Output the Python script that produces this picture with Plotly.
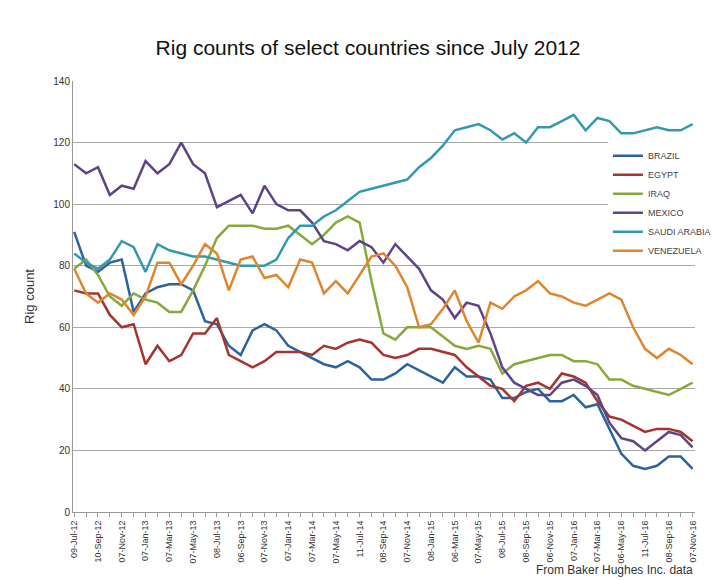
import plotly.graph_objects as go

dates = ["09-Jul-12","10-Sep-12","07-Nov-12","07-Jan-13","07-Mar-13","07-May-13","08-Jul-13","06-Sep-13","07-Nov-13",
         "07-Jan-14","07-Mar-14","07-May-14","11-Jul-14","08-Sep-14","07-Nov-14","08-Jan-15","06-Mar-15","07-May-15",
         "08-Jul-15","08-Sep-15","06-Nov-15","07-Jan-16","07-Mar-16","06-May-16","11-Jul-16","08-Sep-16","07-Nov-16"]

brazil = [91,80,78,81,82,65,71,73,74,74,72,62,61,54,51,59,61,59,54,52,50,48,47,49,47,43,43,45,48,46,
          44,42,47,44,44,43,37,37,39,40,36,36,38,34,35,27,19,15,14,15,18,18,14]
egypt = [72,71,71,64,60,61,48,54,49,51,58,58,63,51,49,47,49,52,52,52,51,54,53,55,56,55,51,50,51,53,
         53,52,51,47,44,41,40,36,41,42,40,45,44,42,36,31,30,28,26,27,27,26,23]
iraq = [79,82,77,70,67,71,69,68,65,65,72,80,89,93,93,93,92,92,93,90,87,90,94,96,94,75,58,56,60,60,
        60,57,54,53,54,53,45,48,49,50,51,51,49,49,48,43,43,41,40,39,38,40,42]
mexico = [113,110,112,103,106,105,114,110,113,120,113,110,99,101,103,97,106,100,98,98,94,88,87,85,88,86,81,87,83,79,
          72,69,63,68,67,58,47,42,40,38,38,42,43,41,38,29,24,23,20,23,26,25,21]
saudi = [84,81,79,82,88,86,78,87,85,84,83,83,82,81,80,80,80,82,89,93,93,96,98,101,104,105,106,107,108,112,
         115,119,124,125,126,124,121,123,120,125,125,127,129,124,128,127,123,123,124,125,124,124,126]
venezuela = [79,71,68,71,69,64,70,81,81,74,80,87,84,72,82,83,76,77,73,82,81,71,75,71,77,83,84,80,73,60,
             61,66,72,62,55,68,66,70,72,75,71,70,68,67,69,71,69,60,53,50,53,51,48]

names = ["BRAZIL","EGYPT","IRAQ","MEXICO","SAUDI ARABIA","VENEZUELA"]
series = [brazil, egypt, iraq, mexico, saudi, venezuela]
colors = ["#2C62A0","#A5332F","#87A93C","#5E4487","#3499AF","#E0852E"]

fig = go.Figure()
for n, s, c in zip(names, series, colors):
    fig.add_trace(go.Scatter(x=list(range(len(s))), y=s, mode="lines", name=n,
                             line=dict(color=c, width=2.5)))

fig.update_layout(
    width=720, height=581, paper_bgcolor="white", plot_bgcolor="white",
    margin=dict(l=65, r=25, t=73, b=77),
    font=dict(family="Liberation Sans, Arial", color="#333"),
    title=dict(text="Rig counts of select countries since July 2012", x=0.5, y=0.945,
               xanchor="center", font=dict(size=21, color="#111")),
    showlegend=True,
    legend=dict(x=0.86, y=0.86, xanchor="left", yanchor="top", bgcolor="white",
                font=dict(size=9, color="#444"), tracegroupgap=0, itemwidth=30),
    xaxis=dict(range=[-0.1, 52.2], tickmode="array", tickvals=list(range(0, 53, 2)), ticktext=dates,
               tickangle=-90, tickfont=dict(size=9), showgrid=False, showline=True, linecolor="#999",
               ticks="outside", ticklen=4, tickcolor="#999", zeroline=False,
               minor=dict(ticks="outside", ticklen=4, tickcolor="#999", dtick=1, tick0=0)),
    yaxis=dict(range=[0, 140], dtick=20, showgrid=True, gridcolor="#AAAAAA", gridwidth=1,
               tickfont=dict(size=10), title=dict(text="Rig count", font=dict(size=13)),
               showline=True, linecolor="#999", zeroline=False),
    annotations=[dict(text="From Baker Hughes Inc. data", x=1, y=-0.135, xref="paper", yref="paper",
                      xanchor="right", yanchor="middle", showarrow=False, font=dict(size=12, color="#333"))],
)
fig.write_html("out.html")
